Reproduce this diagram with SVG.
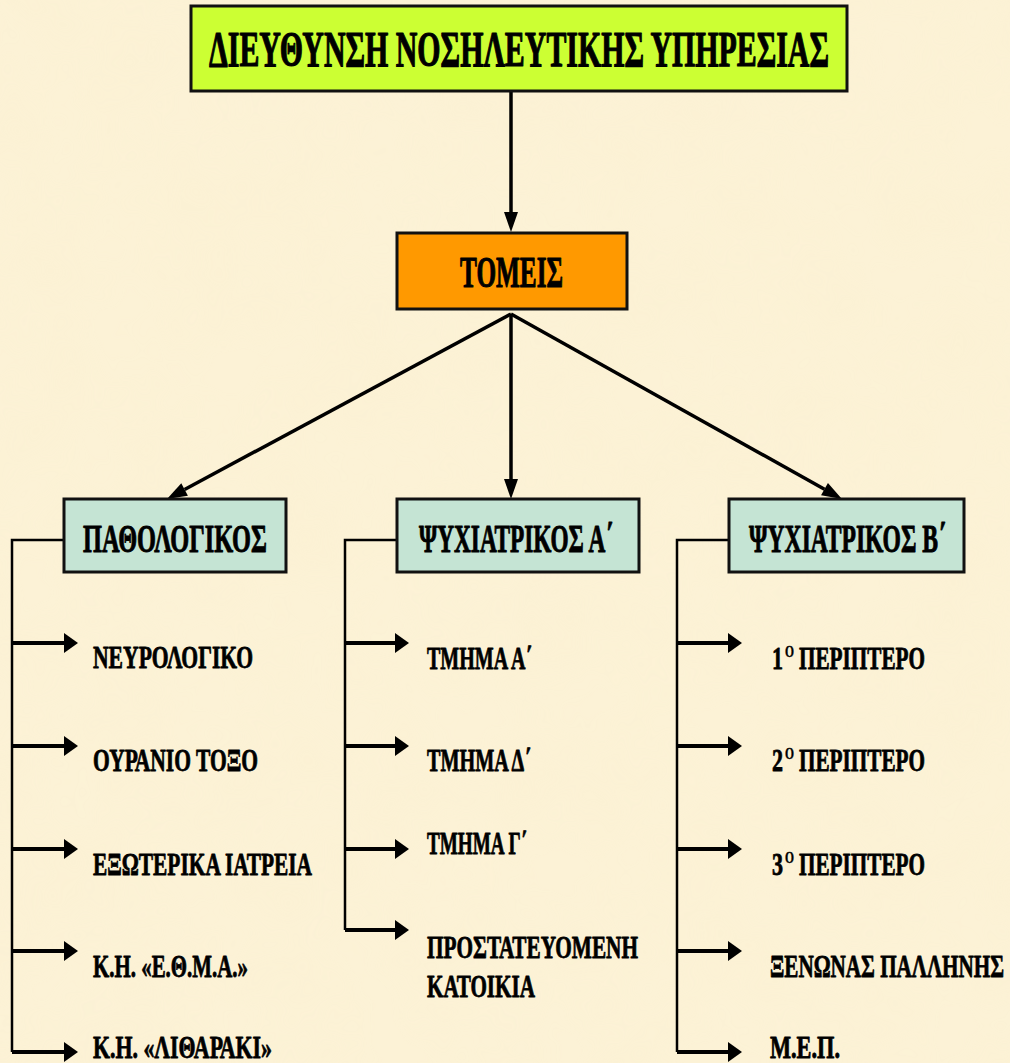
<svg xmlns="http://www.w3.org/2000/svg" width="1010" height="1063" viewBox="0 0 1010 1063">
  <style>
    .box { stroke: #111; stroke-width: 3; }
    .title { fill: #ccff33; }
    .sector { fill: #ff9900; }
    .dept { fill: #c5e4d4; }
    text { font-family: "Liberation Serif", "Times New Roman", serif; font-weight: bold; fill: #000; stroke: #000; stroke-linejoin: round; }
    .t-title { font-size: 50px; stroke-width: 1.2; }
    .t-sector { font-size: 44px; stroke-width: 1.1; }
    .t-dept { font-size: 41px; stroke-width: 1; }
    .t-leaf { font-size: 31px; stroke-width: 0.8; }
    .t-sup { font-size: 17px; stroke-width: 0.4; }
    .link { fill: none; stroke: #000; stroke-width: 3.5; }
    .rail { fill: none; stroke: #000; stroke-width: 2.5; }
    .branch { fill: none; stroke: #000; stroke-width: 4; }
  </style>
  <defs>
    <marker id="head-main" markerUnits="userSpaceOnUse" markerWidth="20" markerHeight="14" refX="0" refY="7" orient="auto" overflow="visible">
      <path d="M0,0 L20,7 L0,14 z" fill="#000"/>
    </marker>
    <marker id="head-leaf" markerUnits="userSpaceOnUse" markerWidth="14" markerHeight="20" refX="0" refY="10" orient="auto" overflow="visible">
      <path d="M0,0 L14,10 L0,20 z" fill="#000"/>
    </marker>
    <filter id="parchment" x="0" y="0" width="100%" height="100%">
      <feTurbulence type="fractalNoise" baseFrequency="0.012" numOctaves="3" seed="7" result="n"/>
      <feColorMatrix in="n" type="matrix" values="0 0 0 0 0.96  0 0 0 0 0.86  0 0 0 0 0.62  0 0 0 0.6 -0.16"/>
    </filter>
  </defs>

  <!-- paper background -->
  <rect width="1010" height="1063" fill="#fcf2d6"/>
  <rect width="1010" height="1063" filter="url(#parchment)" opacity="0.6"/>

  <!-- connectors -->
  <g id="connectors">
    <path class="link" d="M511,91 V212" marker-end="url(#head-main)"/>
    <path class="link" d="M511,314 L184.6,489.5" marker-end="url(#head-main)"/>
    <path class="link" d="M511,314 V479" marker-end="url(#head-main)"/>
    <path class="link" d="M511,314 L824.5,489.2" marker-end="url(#head-main)"/>

    <!-- left branch -->
    <path class="rail" d="M64,540 H12 V1052"/>
    <path class="branch" d="M12,643 H64" marker-end="url(#head-leaf)"/>
    <path class="branch" d="M12,746 H64" marker-end="url(#head-leaf)"/>
    <path class="branch" d="M12,849 H64" marker-end="url(#head-leaf)"/>
    <path class="branch" d="M12,951 H64" marker-end="url(#head-leaf)"/>
    <path class="branch" d="M12,1052 H64" marker-end="url(#head-leaf)"/>

    <!-- middle branch -->
    <path class="rail" d="M397,540 H345 V930"/>
    <path class="branch" d="M345,643 H395" marker-end="url(#head-leaf)"/>
    <path class="branch" d="M345,746 H395" marker-end="url(#head-leaf)"/>
    <path class="branch" d="M345,849 H395" marker-end="url(#head-leaf)"/>
    <path class="branch" d="M345,930 H395" marker-end="url(#head-leaf)"/>

    <!-- right branch -->
    <path class="rail" d="M729,540 H677 V1052"/>
    <path class="branch" d="M677,643 H728" marker-end="url(#head-leaf)"/>
    <path class="branch" d="M677,746 H728" marker-end="url(#head-leaf)"/>
    <path class="branch" d="M677,849 H728" marker-end="url(#head-leaf)"/>
    <path class="branch" d="M677,951 H728" marker-end="url(#head-leaf)"/>
    <path class="branch" d="M677,1052 H728" marker-end="url(#head-leaf)"/>
  </g>

  <!-- top level -->
  <g id="directorate">
    <rect class="box title" x="191" y="6" width="656" height="85"/>
    <text class="t-title" x="519" y="66" text-anchor="middle" textLength="620" lengthAdjust="spacingAndGlyphs">ΔΙΕΥΘΥΝΣΗ ΝΟΣΗΛΕΥΤΙΚΗΣ ΥΠΗΡΕΣΙΑΣ</text>
  </g>

  <g id="sectors">
    <rect class="box sector" x="397" y="233" width="230" height="76"/>
    <text class="t-sector" x="511.5" y="287" text-anchor="middle" textLength="103" lengthAdjust="spacingAndGlyphs">ΤΟΜΕΙΣ</text>
  </g>

  <!-- departments -->
  <g id="pathologikos">
    <rect class="box dept" x="64" y="499" width="222" height="73"/>
    <text class="t-dept" x="175" y="552" text-anchor="middle" textLength="184" lengthAdjust="spacingAndGlyphs">ΠΑΘΟΛΟΓΙΚΟΣ</text>
  </g>
  <g id="psychiatrikos-a">
    <rect class="box dept" x="397" y="499" width="242" height="73"/>
    <text class="t-dept" x="516" y="552" text-anchor="middle" textLength="194" lengthAdjust="spacingAndGlyphs">ΨΥΧΙΑΤΡΙΚΟΣ Α΄</text>
  </g>
  <g id="psychiatrikos-b">
    <rect class="box dept" x="729" y="499" width="235" height="73"/>
    <text class="t-dept" x="847.5" y="552" text-anchor="middle" textLength="197" lengthAdjust="spacingAndGlyphs">ΨΥΧΙΑΤΡΙΚΟΣ Β΄</text>
  </g>

  <!-- units under ΠΑΘΟΛΟΓΙΚΟΣ -->
  <g id="neurologiko"><text class="t-leaf" x="93" y="668" textLength="160" lengthAdjust="spacingAndGlyphs">ΝΕΥΡΟΛΟΓΙΚΟ</text></g>
  <g id="ouranio-toxo"><text class="t-leaf" x="93" y="771" textLength="165" lengthAdjust="spacingAndGlyphs">ΟΥΡΑΝΙΟ ΤΟΞΟ</text></g>
  <g id="exoterika-iatreia"><text class="t-leaf" x="93" y="875" textLength="219" lengthAdjust="spacingAndGlyphs">ΕΞΩΤΕΡΙΚΑ ΙΑΤΡΕΙΑ</text></g>
  <g id="kh-ethma"><text class="t-leaf" x="93" y="977" textLength="155" lengthAdjust="spacingAndGlyphs">Κ.Η. «Ε.Θ.Μ.Α.»</text></g>
  <g id="kh-litharaki"><text class="t-leaf" x="93" y="1058" textLength="179" lengthAdjust="spacingAndGlyphs">Κ.Η. «ΛΙΘΑΡΑΚΙ»</text></g>

  <!-- units under ΨΥΧΙΑΤΡΙΚΟΣ Α΄ -->
  <g id="tmima-a"><text class="t-leaf" x="427" y="669" textLength="105" lengthAdjust="spacingAndGlyphs">ΤΜΗΜΑ Α΄</text></g>
  <g id="tmima-d"><text class="t-leaf" x="427" y="771" textLength="104" lengthAdjust="spacingAndGlyphs">ΤΜΗΜΑ Δ΄</text></g>
  <g id="tmima-g"><text class="t-leaf" x="427" y="854" textLength="100" lengthAdjust="spacingAndGlyphs">ΤΜΗΜΑ Γ΄</text></g>
  <g id="prostateuomeni">
    <text class="t-leaf" x="427" y="958" textLength="211" lengthAdjust="spacingAndGlyphs">ΠΡΟΣΤΑΤΕΥΟΜΕΝΗ</text>
    <text class="t-leaf" x="427" y="997" textLength="108" lengthAdjust="spacingAndGlyphs">ΚΑΤΟΙΚΙΑ</text>
  </g>

  <!-- units under ΨΥΧΙΑΤΡΙΚΟΣ Β΄ -->
  <g id="periptero-1">
    <text class="t-leaf" y="669"><tspan x="772" textLength="11" lengthAdjust="spacingAndGlyphs">1</tspan><tspan class="t-sup" x="785" dy="-12" textLength="9" lengthAdjust="spacingAndGlyphs">Ο</tspan><tspan x="799" dy="12" textLength="126" lengthAdjust="spacingAndGlyphs">ΠΕΡΙΠΤΕΡΟ</tspan></text>
  </g>
  <g id="periptero-2">
    <text class="t-leaf" y="771"><tspan x="772" textLength="11" lengthAdjust="spacingAndGlyphs">2</tspan><tspan class="t-sup" x="785" dy="-12" textLength="9" lengthAdjust="spacingAndGlyphs">Ο</tspan><tspan x="799" dy="12" textLength="126" lengthAdjust="spacingAndGlyphs">ΠΕΡΙΠΤΕΡΟ</tspan></text>
  </g>
  <g id="periptero-3">
    <text class="t-leaf" y="875"><tspan x="772" textLength="11" lengthAdjust="spacingAndGlyphs">3</tspan><tspan class="t-sup" x="785" dy="-12" textLength="9" lengthAdjust="spacingAndGlyphs">Ο</tspan><tspan x="799" dy="12" textLength="126" lengthAdjust="spacingAndGlyphs">ΠΕΡΙΠΤΕΡΟ</tspan></text>
  </g>
  <g id="xenonas-pallinis"><text class="t-leaf" x="770" y="977" textLength="234" lengthAdjust="spacingAndGlyphs">ΞΕΝΩΝΑΣ ΠΑΛΛΗΝΗΣ</text></g>
  <g id="mep"><text class="t-leaf" x="770" y="1058" textLength="70" lengthAdjust="spacingAndGlyphs">Μ.Ε.Π.</text></g>
</svg>
